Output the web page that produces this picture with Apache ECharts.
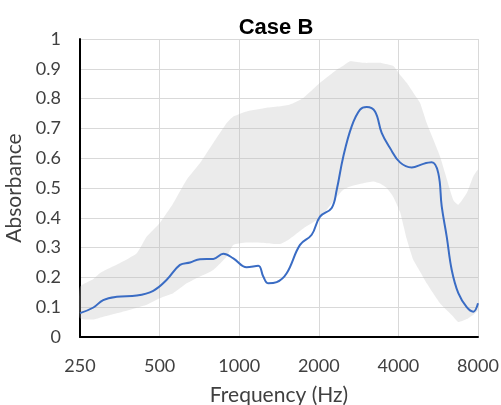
<!DOCTYPE html>
<html>
<head>
<meta charset="utf-8">
<script src="https://cdn.jsdelivr.net/npm/echarts@6/dist/echarts.min.js"></script>
<style>
  html, body { margin: 0; padding: 0; background: #fff; }
  #chart { width: 501px; height: 405px; }
</style>
</head>
<body>
<div id="chart"></div>
<script>
/* Case B - absorbance vs frequency, mean curve + min/max band */

var xTicks = [250, 500, 1000, 2000, 4000, 8000];

// blue mean curve
var lineFreq = [250, 281, 306, 344, 410, 473, 532, 597, 652, 711, 798, 871, 950, 1067, 1181, 1233, 1289,
    1386, 1512, 1698, 1880, 2021, 2238, 2338, 2476, 2663, 2864, 3035, 3263, 3458, 3718, 4056, 4490,
    4970, 5345, 5661, 5833, 6092, 6364, 6741, 7252, 7680, 8000];
var lineAbs = [0.080, 0.099, 0.124, 0.135, 0.139, 0.155, 0.192, 0.242, 0.250, 0.261, 0.262, 0.279, 0.264,
    0.234, 0.239, 0.203, 0.180, 0.184, 0.214, 0.309, 0.343, 0.404, 0.433, 0.494, 0.606, 0.707, 0.763,
    0.772, 0.757, 0.685, 0.634, 0.586, 0.569, 0.581, 0.586, 0.550, 0.438, 0.337, 0.225, 0.147, 0.100,
    0.085, 0.113];

// grey band (min / max)
var bandFreq = [250, 281, 297, 325, 354, 410, 447, 500, 563, 633, 711, 798, 897, 950, 1067, 1270, 1427,
    1556, 1747, 2021, 2338, 2476, 2625, 2947, 3215, 3408, 3613, 3827, 4056, 4299, 4553, 4827, 5118,
    5747, 6453, 6741, 7252, 7680, 8000];
var bandLow = [0.063, 0.059, 0.065, 0.074, 0.082, 0.098, 0.108, 0.130, 0.147, 0.180, 0.203, 0.225, 0.270,
    0.309, 0.317, 0.315, 0.312, 0.330, 0.364, 0.400, 0.470, 0.494, 0.505, 0.516, 0.522, 0.515, 0.500,
    0.470, 0.420, 0.330, 0.259, 0.220, 0.180, 0.113, 0.068, 0.050, 0.060, 0.075, 0.091];
var bandHigh = [0.169, 0.195, 0.214, 0.232, 0.248, 0.281, 0.337, 0.382, 0.449, 0.528, 0.584, 0.651, 0.718,
    0.740, 0.757, 0.769, 0.774, 0.780, 0.802, 0.853, 0.897, 0.910, 0.925, 0.920, 0.920, 0.920, 0.915,
    0.909, 0.880, 0.853, 0.820, 0.786, 0.718, 0.606, 0.460, 0.444, 0.483, 0.539, 0.561];

// octaves above 250 Hz -> linear axis
function oct(f) { return Math.log2(f / 250); }

var lineData = [];
for (var i = 0; i < lineFreq.length; i++) {
    lineData.push([oct(lineFreq[i]), lineAbs[i]]);
}

// band drawn as one polygon: upper edge left->right, lower edge right->left
function renderBand(params, api) {
    if (params.dataIndex !== 0) return;
    var pts = [];
    for (var k = 0; k < bandFreq.length; k++) {
        pts.push(api.coord([oct(bandFreq[k]), bandHigh[k]]));
    }
    for (var m = bandFreq.length - 1; m >= 0; m--) {
        pts.push(api.coord([oct(bandFreq[m]), bandLow[m]]));
    }
    return {
        type: 'polygon',
        shape: { points: pts, smooth: 0.15 },
        style: { fill: 'rgba(190,190,190,0.3)' },
        silent: true
    };
}

var txt = '#404040';
var myChart = echarts.init(document.getElementById('chart'));
var option = {
    animation: false,
    title: {
        text: 'Case B',
        left: 271,
        textAlign: 'center',
        top: 12,
        textStyle: {
            fontFamily: 'Liberation Sans',
            fontWeight: 'bold',
            fontSize: 22,
            color: '#000'
        }
    },
    grid: { left: 80, right: 23, top: 39, bottom: 68, outerBoundsMode: 'none' },
    xAxis: {
        type: 'value',
        min: 0,
        max: 5,
        interval: 1,
        name: 'Frequency (Hz)',
        nameLocation: 'middle',
        nameGap: 48,
        nameTextStyle: { fontFamily: 'Lato', fontSize: 21, color: txt },
        axisLine: { lineStyle: { color: '#000', width: 2 } },
        axisTick: { show: false },
        axisLabel: {
            margin: 20,
            fontFamily: 'Lato',
            fontSize: 18,
            color: txt,
            formatter: function (v) { return xTicks[Math.round(v)]; }
        },
        splitLine: { show: true, lineStyle: { color: '#d9d9d9', width: 1 } }
    },
    yAxis: {
        type: 'value',
        min: 0,
        max: 1,
        interval: 0.1,
        name: 'Absorbance',
        nameLocation: 'middle',
        nameGap: 50,
        nameTextStyle: { fontFamily: 'Lato', fontSize: 21, color: txt },
        axisLine: { show: true, lineStyle: { color: '#000', width: 2 } },
        axisTick: { show: false },
        axisLabel: {
            margin: 19,
            fontFamily: 'Lato',
            fontSize: 18,
            color: txt
        },
        splitLine: { lineStyle: { color: '#d9d9d9', width: 1 } }
    },
    series: [
        {
            name: 'range',
            type: 'custom',
            renderItem: renderBand,
            data: [0],
            silent: true,
            z: 1
        },
        {
            name: 'mean',
            type: 'line',
            data: lineData,
            symbol: 'none',
            smooth: 0.4,
            lineStyle: { color: '#3a6cc4', width: 2 },
            z: 2
        }
    ]
};
myChart.setOption(option);
</script>
</body>
</html>
